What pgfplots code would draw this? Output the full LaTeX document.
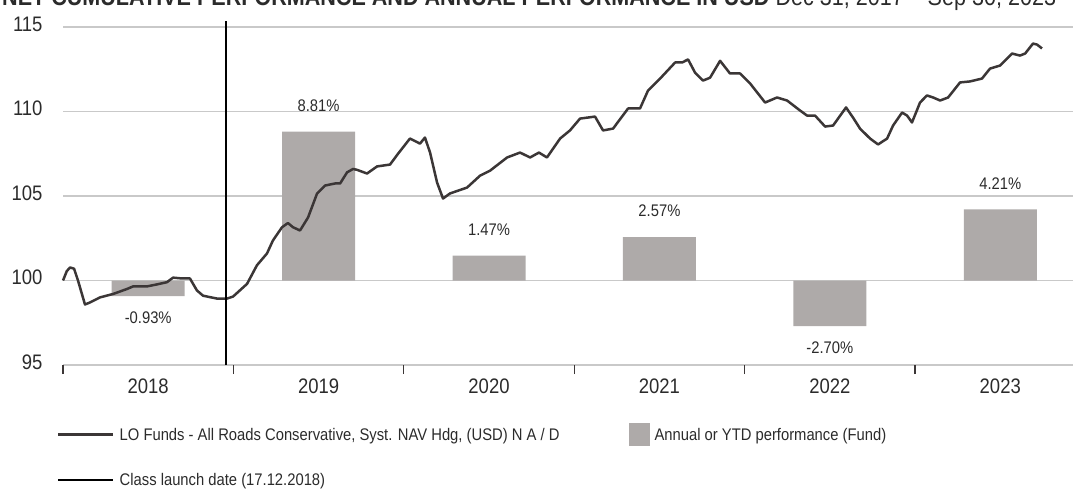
\documentclass[border=0pt]{standalone}
\usepackage{pgfplots}
\pgfplotsset{compat=1.18}
\usepackage{fontspec}
\setmainfont{Liberation Sans}[FakeStretch=0.88]
\definecolor{navc}{HTML}{3B3636}
\definecolor{barc}{HTML}{AEAAA9}
\definecolor{gridc}{HTML}{C9C9C9}
\definecolor{txtc}{HTML}{2B2B2B}
\pgfplotsset{
  linelegend/.style={legend image code/.code={\draw[##1,line cap=butt] (0pt,0pt) -- (55pt,0pt);}},
  patchlegend/.style={legend image code/.code={\fill[##1] (0pt,-11.5pt) rectangle (21pt,11.5pt);}},
}
\begin{document}
\begin{tikzpicture}
\useasboundingbox (-63pt,-123pt) rectangle (1010pt,365pt);
% ---- bars and grid (percent scale, 0 = 100) ----
\begin{axis}[
  at={(0pt,0pt)}, anchor=south west,
  scale only axis, width=1010pt, height=338pt,
  xmin=2018, xmax=2023.927, ymin=-5, ymax=15,
  axis line style={draw=none},
  xtick=\empty, ytick={-5,0,5,10,15}, yticklabels={},
  ymajorgrids, grid style={gridc, line width=1.5pt},
  major tick length=0pt,
  clip=false,
  point meta=explicit symbolic,
  nodes near coords,
  nodes near coords style={font=\fontsize{16.8}{18}\selectfont, text=txtc},
]
\addplot[ybar, bar width=0.4284, bar shift=0pt, fill=barc, draw=none,
  every node near coord/.append style={anchor=south, inner ysep=20pt}]
  coordinates {(2019.5,8.81)[8.81\%] (2020.5,1.47)[1.47\%] (2021.5,2.57)[2.57\%] (2023.5,4.21)[4.21\%]};
\addplot[ybar, bar width=0.4284, bar shift=0pt, fill=barc, draw=none,
  every node near coord/.append style={anchor=north, inner ysep=15.5pt}]
  coordinates {(2018.5,-0.93)[-0.93\%] (2022.5,-2.70)[-2.70\%]};
\end{axis}
% ---- NAV line ----
\begin{axis}[
  at={(0pt,0pt)}, anchor=south west,
  scale only axis, width=1010pt, height=338pt,
  xmin=2018, xmax=2023.927, ymin=95, ymax=115,
  axis line style={draw=none},
  ytick={95,100,105,110,115},
  xtick={2018,2019,2020,2021,2022,2023}, xticklabels={},
  extra x ticks={2018.5,2019.5,2020.5,2021.5,2022.5,2023.5},
  extra x tick labels={2018,2019,2020,2021,2022,2023},
  extra x tick style={major tick length=0pt, xticklabel style={yshift=-10pt}},
  tick align=outside, xtick pos=bottom, ytick pos=left,
  major tick length=9pt,
  ytick style={draw=none},
  xtick style={draw=navc, line width=1.2pt},
  tick label style={font=\fontsize{21}{24}\selectfont, text=txtc},
  yticklabel style={xshift=-8pt, yshift=3pt},
  /pgf/number format/assume math mode=true,
  /pgf/number format/1000 sep={},
  clip=false,
  legend columns=2,
  legend cell align=left,
  legend style={at={(0,0)}, anchor=north west, xshift=-6pt, yshift=-58pt,
    draw=none, fill=none, inner sep=0pt,
    font=\fontsize{16.8}{19}\selectfont, text=txtc, row sep=27pt,
    nodes={inner sep=0pt},
    /tikz/every odd column/.append style={column sep=5pt},
    /tikz/every even column/.append style={column sep=69pt}},
]
\addplot[navc, line width=2.5pt, line join=round, linelegend] coordinates {
(2018.000,100.00) (2018.022,100.55) (2018.041,100.77) (2018.065,100.70) (2018.088,100.00)
(2018.129,98.58) (2018.158,98.70) (2018.217,99.00) (2018.293,99.20) (2018.376,99.50)
(2018.411,99.65) (2018.493,99.65) (2018.552,99.77) (2018.610,99.90) (2018.646,100.17)
(2018.698,100.12) (2018.745,100.12) (2018.786,99.41) (2018.822,99.10) (2018.904,98.93)
(2018.962,98.93) (2018.998,99.05) (2019.080,99.80) (2019.138,100.90) (2019.197,101.60)
(2019.232,102.37) (2019.285,103.15) (2019.320,103.40) (2019.350,103.15) (2019.391,102.96)
(2019.438,103.73) (2019.491,105.15) (2019.538,105.62) (2019.596,105.74) (2019.626,105.74)
(2019.667,106.40) (2019.702,106.60) (2019.725,106.55) (2019.784,106.33) (2019.843,106.75)
(2019.919,106.86) (2019.966,107.50) (2020.036,108.40) (2020.095,108.10) (2020.124,108.46)
(2020.154,107.57) (2020.195,105.80) (2020.230,104.85) (2020.271,105.15) (2020.371,105.50)
(2020.447,106.20) (2020.506,106.50) (2020.606,107.28) (2020.682,107.57) (2020.741,107.28)
(2020.793,107.57) (2020.840,107.28) (2020.917,108.40) (2020.975,108.88) (2021.034,109.58)
(2021.122,109.70) (2021.169,108.88) (2021.228,108.99) (2021.316,110.18) (2021.386,110.18)
(2021.433,111.24) (2021.504,111.95) (2021.592,112.90) (2021.633,112.90) (2021.668,113.08)
(2021.709,112.30) (2021.756,111.83) (2021.797,112.00) (2021.856,113.00) (2021.914,112.25)
(2021.973,112.25) (2022.032,111.66) (2022.120,110.53) (2022.190,110.83) (2022.249,110.65)
(2022.325,110.06) (2022.366,109.76) (2022.413,109.76) (2022.472,109.11) (2022.519,109.17)
(2022.595,110.24) (2022.636,109.64) (2022.677,108.99) (2022.736,108.40) (2022.783,108.05)
(2022.836,108.40) (2022.871,109.17) (2022.924,109.94) (2022.953,109.76) (2022.982,109.35)
(2023.029,110.53) (2023.070,110.95) (2023.106,110.83) (2023.147,110.65) (2023.194,110.83)
(2023.264,111.72) (2023.323,111.78) (2023.393,111.95) (2023.440,112.54) (2023.499,112.72)
(2023.569,113.43) (2023.616,113.31) (2023.646,113.43) (2023.692,114.02) (2023.716,113.96)
(2023.745,113.73)
};
\addlegendentry{LO Funds - All Roads Conservative, Syst. NAV Hdg, (USD) N A / D}
\addlegendimage{patchlegend, fill=barc, draw=none}
\addlegendentry{Annual or YTD performance (Fund)}
\addplot[black, line width=1.3pt, linelegend] coordinates {(2018.957,95) (2018.957,115.35)};
\addlegendentry{Class launch date (17.12.2018)}
\end{axis}
\node[anchor=base west, inner sep=0pt, font=\fontsize{24.5}{28}\selectfont, text=txtc]
  at (-61pt,359pt) {\textbf{NET CUMULATIVE PERFORMANCE AND ANNUAL PERFORMANCE IN USD} Dec 31, 2017 \textendash\ Sep 30, 2023};
\end{tikzpicture}
\end{document}
